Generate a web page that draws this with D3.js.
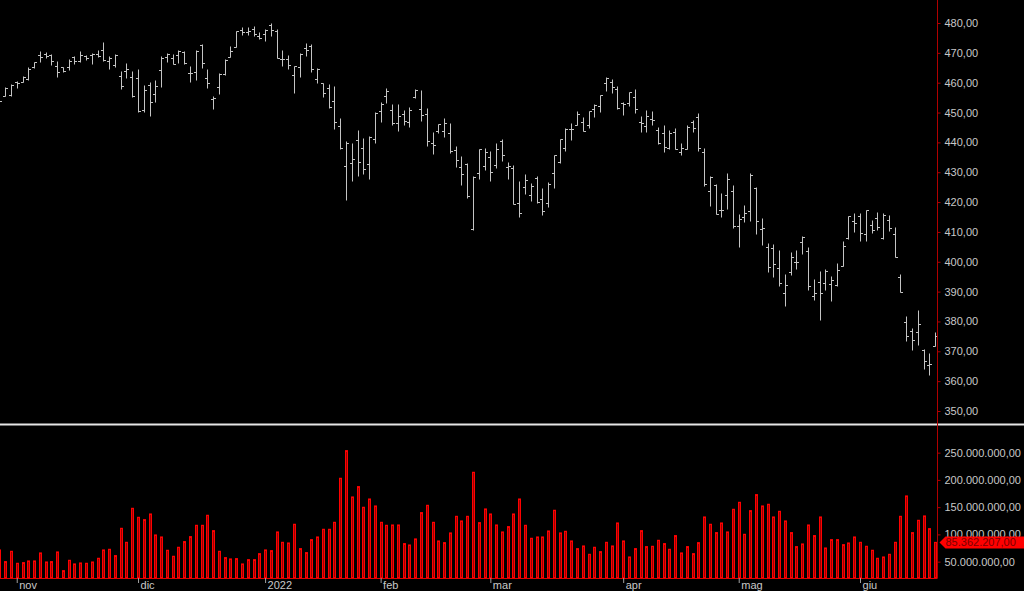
<!DOCTYPE html>
<html>
<head>
<meta charset="utf-8">
<script src="https://cdn.jsdelivr.net/npm/d3@7/dist/d3.min.js"></script>
<style>
html,body{margin:0;padding:0;background:#000;}
svg{display:block;}
text{font-family:"Liberation Sans",Arial,sans-serif;font-size:11px;}
</style>
</head>
<body>
<svg id="chart" width="1024" height="591"></svg>
<script>
const dates = [
"2021-10-27","2021-10-28","2021-10-29",
"2021-11-01","2021-11-02","2021-11-03","2021-11-04","2021-11-05","2021-11-08","2021-11-09","2021-11-10","2021-11-11","2021-11-12",
"2021-11-15","2021-11-16","2021-11-17","2021-11-18","2021-11-19","2021-11-22","2021-11-23","2021-11-24","2021-11-26","2021-11-29","2021-11-30",
"2021-12-01","2021-12-02","2021-12-03","2021-12-06","2021-12-07","2021-12-08","2021-12-09","2021-12-10","2021-12-13","2021-12-14","2021-12-15",
"2021-12-16","2021-12-17","2021-12-20","2021-12-21","2021-12-22","2021-12-23","2021-12-27","2021-12-28","2021-12-29","2021-12-30","2021-12-31",
"2022-01-03","2022-01-04","2022-01-05","2022-01-06","2022-01-07","2022-01-10","2022-01-11","2022-01-12","2022-01-13","2022-01-14",
"2022-01-18","2022-01-19","2022-01-20","2022-01-21","2022-01-24","2022-01-25","2022-01-26","2022-01-27","2022-01-28","2022-01-31",
"2022-02-01","2022-02-02","2022-02-03","2022-02-04","2022-02-07","2022-02-08","2022-02-09","2022-02-10","2022-02-11","2022-02-14",
"2022-02-15","2022-02-16","2022-02-17","2022-02-18","2022-02-22","2022-02-23","2022-02-24","2022-02-25","2022-02-28",
"2022-03-01","2022-03-02","2022-03-03","2022-03-04","2022-03-07","2022-03-08","2022-03-09","2022-03-10","2022-03-11","2022-03-14",
"2022-03-15","2022-03-16","2022-03-17","2022-03-18","2022-03-21","2022-03-22","2022-03-23","2022-03-24","2022-03-25","2022-03-28",
"2022-03-29","2022-03-30","2022-03-31",
"2022-04-01","2022-04-04","2022-04-05","2022-04-06","2022-04-07","2022-04-08","2022-04-11","2022-04-12","2022-04-13","2022-04-14",
"2022-04-18","2022-04-19","2022-04-20","2022-04-21","2022-04-22","2022-04-25","2022-04-26","2022-04-27","2022-04-28","2022-04-29",
"2022-05-02","2022-05-03","2022-05-04","2022-05-05","2022-05-06","2022-05-09","2022-05-10","2022-05-11","2022-05-12","2022-05-13",
"2022-05-16","2022-05-17","2022-05-18","2022-05-19","2022-05-20","2022-05-23","2022-05-24","2022-05-25","2022-05-26","2022-05-27","2022-05-31",
"2022-06-01","2022-06-02","2022-06-03","2022-06-06","2022-06-07","2022-06-08","2022-06-09","2022-06-10","2022-06-13","2022-06-14",
"2022-06-15","2022-06-16","2022-06-17","2022-06-21"
];
const open = [456.45,455.46,455.87,
460.30,460.22,461.30,465.36,469.28,469.70,469.32,465.58,465.21,465.12,468.64,467.15,469.00,469.24,469.61,470.89,467.22,466.06,462.34,464.07,462.00,
461.64,450.73,459.17,456.13,464.41,468.70,468.15,469.23,470.19,463.09,463.42,472.57,461.55,454.48,458.61,462.79,468.75,472.06,477.72,476.98,477.93,475.64,
476.30,479.22,477.16,467.89,467.95,462.70,465.23,471.59,472.19,461.19,459.74,458.13,453.75,445.56,432.03,433.06,440.72,438.26,432.68,441.24,
450.68,455.50,450.95,446.35,449.51,446.73,455.22,451.34,449.41,439.92,443.73,443.93,443.22,437.33,431.89,432.66,411.02,429.61,432.03,
435.04,432.37,440.47,431.75,431.55,419.62,425.14,422.52,428.12,420.89,419.77,429.89,433.59,438.00,444.34,445.86,446.91,445.94,451.16,452.06,460.02,460.34,457.89,
453.31,453.13,455.22,446.89,445.59,447.97,444.11,443.08,438.03,443.55,436.81,437.86,446.92,448.54,436.91,423.67,425.83,417.24,422.29,423.59,
412.07,415.01,417.08,424.55,411.10,405.10,404.49,398.07,389.37,396.71,399.98,406.53,403.50,388.62,393.25,392.83,392.56,392.31,398.67,407.91,413.55,
415.17,409.42,412.40,414.78,408.10,413.93,409.34,394.88,379.85,376.85,376.51,370.51,365.51,371.89];
const high = [457.16,458.40,459.56,
460.70,462.23,465.15,467.00,470.65,470.23,469.57,467.38,465.29,467.86,468.81,470.49,469.19,470.01,470.94,473.54,469.10,469.57,463.90,466.56,464.03,
464.67,459.07,460.30,460.79,468.88,470.00,469.63,470.90,470.56,465.74,470.86,472.87,464.74,455.40,463.21,467.81,472.19,477.31,478.81,478.56,479.00,476.86,
477.85,479.98,477.98,470.82,469.20,465.74,469.85,473.20,472.88,465.09,459.96,459.61,458.74,448.06,440.38,439.72,444.04,441.59,442.00,450.28,
453.63,458.12,452.97,452.78,450.99,451.92,457.88,457.71,451.61,443.50,446.28,448.06,446.57,438.66,435.50,433.26,428.76,437.84,438.20,
437.17,439.72,441.11,433.37,432.30,427.21,429.51,426.43,428.77,424.55,426.84,435.68,441.07,444.86,446.46,450.58,448.49,450.50,452.98,455.91,462.07,461.19,458.76,
453.46,456.91,457.83,448.93,450.69,450.63,445.00,445.75,444.11,444.73,439.75,445.80,447.57,450.01,438.08,428.69,426.04,422.92,429.64,425.87,
415.92,418.93,429.66,425.00,414.80,406.41,406.08,404.04,395.80,403.18,403.97,408.57,404.80,394.14,397.03,397.73,395.15,399.45,407.04,415.38,416.46,
416.24,417.44,414.04,416.61,416.22,415.82,411.74,395.78,381.81,377.94,383.90,370.94,369.38,376.52];
const low = [453.86,455.45,455.56,
458.20,460.08,460.83,464.99,466.92,468.20,465.88,462.04,463.75,464.11,466.23,467.07,467.48,466.34,468.50,467.35,464.45,465.19,457.77,461.73,455.30,
450.29,450.31,448.92,453.56,458.65,466.83,466.14,466.51,466.27,460.25,460.74,464.80,458.06,451.14,456.31,462.58,468.64,472.01,476.06,475.92,475.67,474.67,
473.85,475.58,468.28,465.43,464.65,456.60,462.05,468.94,463.44,459.90,455.31,451.46,444.50,437.95,420.76,427.15,428.86,429.45,427.82,439.81,
446.94,453.05,445.71,443.83,445.85,445.22,455.01,447.20,438.94,436.26,443.18,441.94,436.42,431.82,425.86,421.35,410.64,427.86,430.70,
427.11,431.57,433.80,427.88,419.36,415.12,422.82,420.44,419.53,415.79,418.42,424.80,433.19,437.22,440.68,445.86,443.71,444.76,448.43,450.06,457.18,456.47,451.16,
449.14,452.26,449.82,443.47,443.53,445.94,439.39,436.65,437.84,437.68,435.61,437.68,443.48,437.10,425.44,418.84,416.07,415.01,417.60,411.21,
405.02,413.36,413.71,409.44,405.73,396.50,394.82,391.96,385.15,395.61,397.60,402.58,390.55,387.11,380.54,390.38,386.96,391.89,398.45,407.70,410.03,
406.93,407.04,409.51,410.55,407.61,410.38,401.44,389.75,373.30,370.59,372.12,364.08,362.17,371.81];
const close = [453.94,458.32,459.25,
460.04,461.90,464.72,466.91,468.53,468.93,467.38,463.62,463.77,467.27,467.43,469.28,468.14,469.73,468.89,467.57,468.19,469.44,458.97,464.60,455.56,
450.50,457.40,453.42,458.79,468.28,469.52,466.35,470.74,466.57,463.36,470.60,466.45,459.87,454.98,463.06,467.69,470.60,477.26,476.87,477.48,476.16,474.96,
477.71,477.55,468.38,467.94,466.09,465.51,469.75,471.02,464.53,464.72,456.49,451.75,446.75,437.98,439.84,434.47,433.38,431.24,441.95,449.91,
452.95,457.35,446.60,448.70,447.26,450.94,457.54,449.32,440.46,439.02,446.10,446.60,437.06,434.23,429.57,421.95,428.30,437.75,436.63,
429.98,437.89,435.71,432.17,419.43,416.25,427.41,425.48,420.07,417.00,426.17,435.62,441.07,444.52,444.39,449.59,443.80,450.49,452.69,455.91,461.55,458.70,451.64,
452.92,456.80,451.03,446.52,448.77,447.57,439.92,438.29,443.31,437.79,437.97,445.04,444.71,438.06,426.04,428.51,416.10,417.27,427.81,412.00,
414.48,416.38,429.06,413.81,411.34,398.17,399.09,392.75,392.34,401.72,400.09,408.32,391.86,389.46,389.63,396.92,393.89,397.37,405.31,415.26,412.93,
409.59,417.39,410.54,411.79,415.74,411.22,401.44,389.80,375.00,373.87,379.20,366.65,365.86,375.07];
// volume in millions of shares
const volumeM = [71.5,50.1,69.0,
47.0,48.2,51.3,51.3,66.0,49.4,50.1,67.8,33.5,52.5,45.8,47.6,47.0,49.4,56.2,71.5,72.7,61.1,111.2,85.5,147.9,
131.4,127.1,137.5,99.0,95.3,70.9,59.9,76.4,86.8,95.9,116.7,116.7,135.1,106.9,69.0,57.4,55.0,55.6,45.8,53.7,53.7,64.7,
71.5,70.2,104.5,85.5,84.3,118.6,73.9,66.6,90.4,95.3,109.4,109.4,122.2,203.0,253.7,168.7,187.7,149.8,165.0,152.2,
122.2,116.7,117.3,117.3,83.1,80.6,91.7,140.0,153.4,122.2,88.0,84.9,102.7,133.2,124.7,133.2,214.0,121.6,146.7,
137.5,117.3,104.5,114.3,137.5,165.0,116.7,92.9,95.3,95.3,106.3,144.3,102.7,105.7,88.0,73.9,78.8,63.5,76.4,68.4,85.5,78.8,121.0,
88.0,58.6,73.9,106.9,77.6,78.2,89.2,83.1,72.7,97.8,66.0,77.6,64.7,84.9,132.0,118.6,103.3,121.0,104.5,146.1,
158.9,100.2,143.6,173.0,152.2,155.3,132.0,142.4,124.7,103.3,77.6,82.5,117.3,97.8,132.0,75.1,90.4,90.4,81.2,84.3,95.3,
85.5,78.2,70.9,56.2,58.6,63.5,85.5,133.2,170.6,103.3,125.9,133.9,110.6,85.362207];
const monthTickDates = ["2021-11-01","2021-12-01","2022-01-03","2022-02-01","2022-03-01","2022-04-01","2022-05-02","2022-06-01"];
const monthTickLabels = ["nov","dic","2022","feb","mar","apr","mag","giu"];
const priceTicks = [350,360,370,380,390,400,410,420,430,440,450,460,470,480];
const volumeTicks = [50e6,100e6,150e6,200e6,250e6];

const data = dates.map((d,i)=>({date:d,o:open[i],h:high[i],l:low[i],c:close[i],v:volumeM[i]*1e6}));

const it = d3.formatLocale({decimal:",",thousands:".",grouping:[3],currency:["",""]});
const fmt2 = it.format(",.2f");

const svg = d3.select("#chart");
const W = 1024, H = 591;
const axisX = 937.5;

const x = d3.scalePoint().domain(dates).range([-0.6, 935.1]);
const yP = d3.scaleLinear().domain([350,480]).range([411,23]);
const yV = d3.scaleLinear().domain([20e6,270e6]).range([578,441.75]);

svg.append("rect").attr("width",W).attr("height",H).attr("fill","#000");

// volume bars
svg.append("g").selectAll("rect").data(data).join("rect")
  .attr("x", d=>Math.round(x(d.date))-0.5)
  .attr("y", d=>yV(d.v))
  .attr("width", 2)
  .attr("height", d=>Math.max(0, 578 - yV(d.v)))
  .attr("fill","#9a0000")
  .attr("stroke","#ff0000")
  .attr("stroke-width",1);

// volume baseline
svg.append("line").attr("x1",0).attr("x2",axisX).attr("y1",578.5).attr("y2",578.5)
  .attr("stroke","#e00000").attr("stroke-width",1);

// OHLC bars
const px = v => Math.round(yP(v))+0.5;
svg.append("g").selectAll("path").data(data).join("path")
  .attr("d", d=>{
    const xc = Math.round(x(d.date))+0.5;
    return `M${xc},${px(d.h)}V${px(d.l)}M${xc-2.5},${px(d.o)}H${xc}M${xc},${px(d.c)}H${xc+2.5}`;
  })
  .attr("fill","none")
  .attr("stroke","#c4c4c4")
  .attr("stroke-width",1);

// separator line
svg.append("line").attr("x1",0).attr("x2",W).attr("y1",424.5).attr("y2",424.5)
  .attr("stroke","#e6e6e6").attr("stroke-width",2);

// right axis line
svg.append("line").attr("x1",axisX).attr("x2",axisX).attr("y1",0).attr("y2",578)
  .attr("stroke","#b00000").attr("stroke-width",1);

// price axis
const gP = svg.append("g").attr("transform",`translate(${axisX},0)`)
  .call(d3.axisRight(yP).tickValues(priceTicks).tickFormat(fmt2).tickSize(3).tickPadding(4));
gP.select(".domain").remove();
gP.selectAll(".tick line").attr("stroke","#b00000");
gP.selectAll(".tick text").attr("fill","#c8c8c8").style("font-size","11px").attr("font-family",null);

// volume axis
const gV = svg.append("g").attr("transform",`translate(${axisX},0)`)
  .call(d3.axisRight(yV).tickValues(volumeTicks).tickFormat(fmt2).tickSize(3).tickPadding(4));
gV.select(".domain").remove();
gV.selectAll(".tick line").attr("stroke","#b00000");
gV.selectAll(".tick text").attr("fill","#c8c8c8").style("font-size","11px").attr("font-family",null);

// last volume tag
const last = data[data.length-1];
const ty = yV(last.v);
svg.append("path")
  .attr("d",`M${axisX+2},${ty}L${axisX+8},${ty-6}H${W}V${ty+6}H${axisX+8}Z`)
  .attr("fill","#ff0000");
svg.append("text").attr("x",axisX+8).attr("y",ty).attr("dy","0.36em")
  .attr("fill","#7a0000").style("font-size","11px")
  .text(fmt2(last.v));

// x axis
const gX = svg.append("g").attr("transform","translate(0,578)")
  .call(d3.axisBottom(x).tickValues(monthTickDates)
    .tickFormat((d,i)=>monthTickLabels[i]).tickSize(5).tickPadding(0));
gX.select(".domain").remove();
gX.selectAll(".tick line").attr("stroke","#a0a0a0");
gX.selectAll(".tick text").attr("fill","#c8c8c8").style("font-size","11px")
  .attr("text-anchor","start").attr("x",2).attr("y",3).attr("dy","0.71em").attr("font-family",null);
</script>
</body>
</html>
